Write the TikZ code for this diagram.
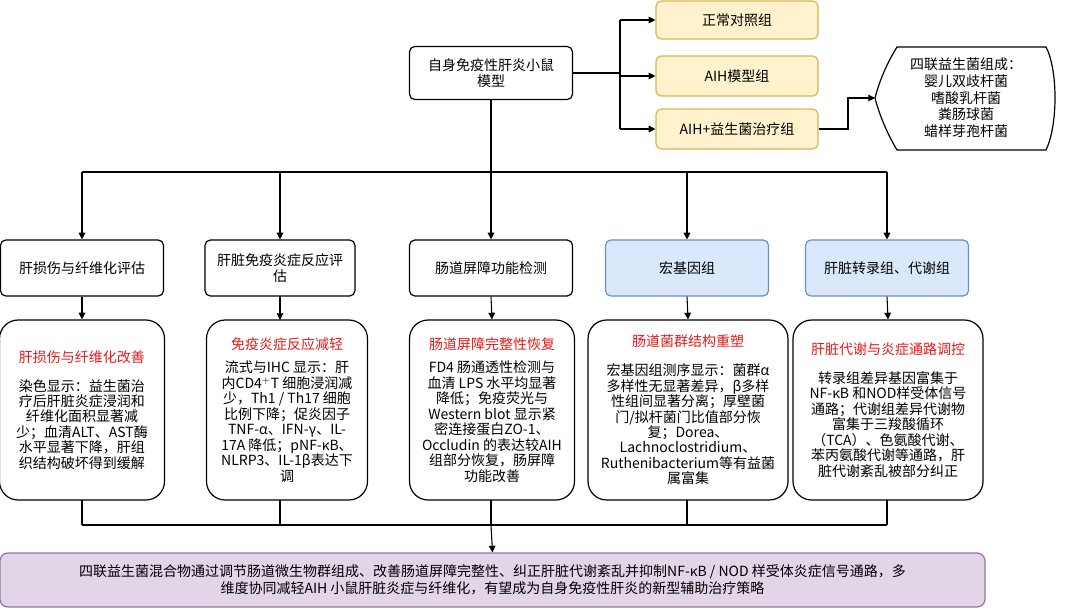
\documentclass[tikz,border=0pt]{standalone}
\usepackage{fontspec}
\setmainfont{Noto Sans CJK SC}
\XeTeXlinebreaklocale "zh"
\XeTeXlinebreakskip=0pt plus 1pt
\usetikzlibrary{arrows.meta}
\definecolor{yf}{HTML}{FFF2CC}\definecolor{yd}{HTML}{D6B656}
\definecolor{bf}{HTML}{DAE8FC}\definecolor{bd}{HTML}{6C8EBF}
\definecolor{pf}{HTML}{E1D5E7}\definecolor{pd}{HTML}{9673A6}
\definecolor{rt}{HTML}{E81818}
\begin{document}
\begin{tikzpicture}[x=0.75pt,y=-0.75pt,
 box/.style={draw=black,line width=0.9pt,rounded corners=4pt,align=center,inner sep=2pt,font=\fontsize{10.5}{12.5}\selectfont},
 big/.style={draw=black,line width=0.9pt,rounded corners=14pt,align=center,inner sep=2pt,font=\fontsize{10.5}{11.6}\selectfont},
 yel/.style={box,fill=yf,draw=yd},
 blu/.style={box,fill=bf,draw=bd},
 arr/.style={line width=0.8pt,-{Triangle[length=5pt,width=5pt]}},
 ln/.style={line width=0.8pt}]
\useasboundingbox (0,0) rectangle (1080,614);
\node[box,minimum width=163*0.75pt,minimum height=53*0.75pt] (top) at (491,73) {自身免疫性肝炎小鼠\\模型};
\node[yel,minimum width=162*0.75pt,minimum height=38*0.75pt] (g1) at (737,20) {正常对照组};
\node[yel,minimum width=162*0.75pt,minimum height=40*0.75pt] (g2) at (737,76) {AIH模型组};
\node[yel,minimum width=162*0.75pt,minimum height=40*0.75pt] (g3) at (737,129) {AIH+益生菌治疗组};
\coordinate (sp) at (620,73);
\draw[ln] (top.east) -- (sp);
\draw[ln] (620,20) -- (620,129);
\draw[arr] (620,20) -- (g1.west);
\draw[arr] (620,76) -- (g2.west);
\draw[arr] (620,129) -- (g3.west);
\draw[line width=0.9pt] (897,47) -- (1046,47) .. controls (1058,70) and (1058,125) .. (1046,150) -- (897,150) .. controls (885,130) and (878,110) .. (875,98) .. controls (878,86) and (885,66) .. (897,47) -- cycle;
\node[align=center,font=\fontsize{10.5}{12.5}\selectfont] (mix) at (966,98) {四联益生菌组成：\\婴儿双歧杆菌\\嗜酸乳杆菌\\粪肠球菌\\蜡样芽孢杆菌};
\coordinate (mixw) at (875,98);
\draw[arr] (g3.east) -- (848,129) -- (848,98) -- (mixw);
% row 2
\node[box,minimum width=163*0.75pt,minimum height=56*0.75pt] (a1) at (82,268) {肝损伤与纤维化评估};
\node[box,minimum width=150*0.75pt,minimum height=56*0.75pt] (a2) at (280,268) {肝脏免疫炎症反应评\\估};
\node[box,minimum width=163*0.75pt,minimum height=56*0.75pt] (a3) at (491,268) {肠道屏障功能检测};
\node[blu,minimum width=163*0.75pt,minimum height=56*0.75pt] (a4) at (687,268) {宏基因组};
\node[blu,minimum width=163*0.75pt,minimum height=56*0.75pt] (a5) at (887,268) {肝脏转录组、代谢组};
\draw[ln] (top.south) -- (491,172);
\draw[ln] (82,172) -- (887,172);
\foreach \n/\x in {a1/82,a2/280,a3/491,a4/687,a5/887} \draw[arr] (\x,172) -- (\n.north);
% row 3
\node[big,minimum width=165*0.75pt,minimum height=180*0.75pt] (b1) at (82,410) {\textcolor{rt}{肝损伤与纤维化改善}\\[10pt]染色显示：益生菌治\\疗后肝脏炎症浸润和\\纤维化面积显著减\\少；血清ALT、AST酶\\水平显著下降，肝组\\织结构破坏得到缓解};
\node[big,minimum width=161*0.75pt,minimum height=180*0.75pt] (b2) at (287,410) {\textcolor{rt}{免疫炎症反应减轻}\\[6pt]流式与IHC 显示：肝\\内CD4$^+$T 细胞浸润减\\少，Th1 / Th17 细胞\\比例下降；促炎因子\\TNF-α、IFN-γ、IL-\\17A 降低；pNF-κB、\\NLRP3、IL-1β表达下\\调};
\node[big,minimum width=165*0.75pt,minimum height=180*0.75pt] (b3) at (492,410) {\textcolor{rt}{肠道屏障完整性恢复}\\[6pt]FD4 肠通透性检测与\\血清 LPS 水平均显著\\降低；免疫荧光与\\Western blot 显示紧\\密连接蛋白ZO-1、\\Occludin 的表达较AIH\\组部分恢复，肠屏障\\功能改善};
\node[big,minimum width=200*0.75pt,minimum height=180*0.75pt] (b4) at (688,410) {\textcolor{rt}{肠道菌群结构重塑}\\[10pt]宏基因组测序显示：菌群α\\多样性无显著差异，β多样\\性组间显著分离；厚壁菌\\门/拟杆菌门比值部分恢\\复；Dorea、\\Lachnoclostridium、\\Ruthenibacterium等有益菌\\属富集};
\node[big,minimum width=190*0.75pt,minimum height=180*0.75pt] (b5) at (888,410) {\textcolor{rt}{肝脏代谢与炎症通路调控}\\[10pt]转录组差异基因富集于\\NF-κB 和NOD样受体信号\\通路；代谢组差异代谢物\\富集于三羧酸循环\\（TCA）、色氨酸代谢、\\苯丙氨酸代谢等通路，肝\\脏代谢紊乱被部分纠正};
\foreach \a/\b in {a1/b1,a3/b3,a4/b4,a5/b5} \draw[arr] (\a.south) -- (\b.north);
\draw[arr] (280,296) -- (280,320);
\foreach \n/\x in {b1/82,b2/280,b3/491,b4/687,b5/887} \draw[ln] (\x,500) -- (\x,525);
\draw[ln] (82,525) -- (887,525);
\node[box,fill=pf,draw=pd,minimum width=985*0.75pt,minimum height=54*0.75pt,rounded corners=6pt] (bot) at (492.5,580) {四联益生菌混合物通过调节肠道微生物群组成、改善肠道屏障完整性、纠正肝脏代谢紊乱并抑制NF-κB / NOD 样受体炎症信号通路，多\\维度协同减轻AIH 小鼠肝脏炎症与纤维化，有望成为自身免疫性肝炎的新型辅助治疗策略};
\draw[arr] (491,525) -- (bot.north);
\end{tikzpicture}
\end{document}
